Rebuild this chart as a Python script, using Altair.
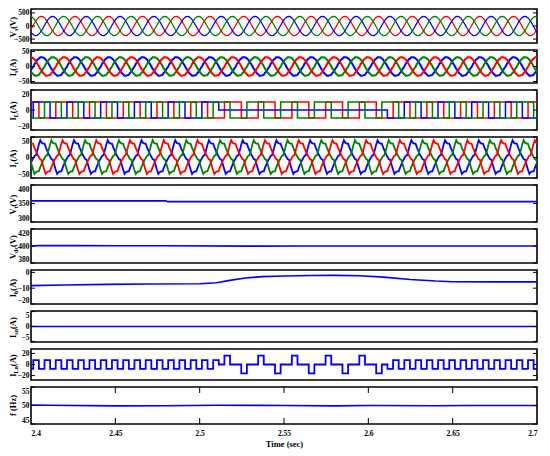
import altair as alt
import pandas as pd

T0, T1 = 2.4, 2.7
PERIOD = 0.02
X_TICKS = [2.4, 2.45, 2.5, 2.55, 2.6, 2.65, 2.7]
W = 506

# ---- three-phase waveforms: one cycle (24 samples, starting at the phase peak)
VS_CYCLE = [370, 357, 320, 262, 185, 96, 0, -96, -185, -262, -320, -357,
            -370, -357, -320, -262, -185, -96, 0, 96, 185, 262, 320, 357]
VS_PEAKS = {"red": 2.4061, "blue": 2.4128, "green": 2.4194}

IS_CYCLE = [31, 30, 27, 23, 15, 9, 1, -8, -14, -22, -26, -31,
            -31, -29, -28, -21, -16, -7, -1, 9, 14, 23, 26, 31]
IS_PEAKS = {"blue": 2.4063, "green": 2.4130, "red": 2.4197}

IC_CYCLE = [42, 36, 34, 34, 24, 16, 8, 2, -4, -6, -18, -30,
            -40, -36, -34, -34, -24, -16, -8, -2, 4, 6, 18, 32]
IC_PEAKS = {"blue": 2.4055, "green": 2.4121, "red": 2.4187}

# ---- load currents: level of each half cycle (10 ms) per phase
IL_HALF = 0.01
IL_START = {"red": 2.3847, "blue": 2.3913, "green": 2.3980}
IL_RED = [-8, 8, -8, 8, -8, 8, -8, 8, -8, 8, -8, 8, -8, 8, -8, 8, -8,
          8, -8, 8, -8, 8, -8, 8, -8, 8, -8, 8, -8, 8, -8, 8, -8]
IL_BLUE = [-8, 8, -8, 8, -8, 8, -8, 8, -8, 8, -8, 8, 0, 0, 0, 0, 0,
           0, 0, 0, 0, 0, -8, 8, -8, 8, -8, 8, -8, 8, -8, 8, -8]
IL_GREEN = [-8, 8, -8, 8, -8, 8, -8, 8, -8, 8, -8, 8, -8, 8, -8, 8, -8,
            8, -8, 8, -8, 8, -8, 8, -8, 8, -8, 8, -8, 8, -8, 8, -8]

# ---- load neutral current: level of each 1/6-cycle segment
ILN_START = 2.3980
ILN_STEP = 1 / 300
ILN = [-8, 8, -8, 8, -8, 8, -8, 8, -8, 8, -8, 8, -8, 8, -8, 8, -8, 8,
       -8, 8, -8, 8, -8, 8, -8, 8, -8, 8, -8, 8, -8, 8, -8, 8,
       0, 16, 0, 0, -16, 0, 0, 16, 0, 0, -16, 0, 0, 16, 0, 0, -16, 0,
       0, 16, 0, 0, -16, 0, 0, 16, 0, 0, -16, 0,
       -8, 8, -8, 8, -8, 8, -8, 8, -8, 8, -8, 8, -8, 8, -8, 8, -8, 8,
       -8, 8, -8, 8, -8, 8, -8, 8, -8]

# ---- slow quantities (time, value)
VT_T = [2.400, 2.480, 2.481, 2.700]
VT_V = [357, 357, 355, 355]

VDC_T = [2.400, 2.405, 2.428, 2.452, 2.480, 2.530, 2.560, 2.700]
VDC_V = [400.0, 400.4, 400.4, 400.3, 400.3, 399.8, 400.0, 400.0]

IB_T = [2.400, 2.420, 2.445, 2.470, 2.500, 2.510, 2.517, 2.527, 2.537, 2.550,
        2.566, 2.580, 2.595, 2.609, 2.625, 2.640, 2.650, 2.675, 2.700]
IB_V = [-8.4, -8.0, -7.6, -7.4, -7.2, -6.6, -5.2, -3.6, -2.7, -2.3,
        -2.0, -1.9, -2.1, -3.0, -4.5, -5.5, -5.9, -6.0, -6.0]

ISN_T = [2.400, 2.700]
ISN_V = [0, 0]

F_T = [2.40, 2.41, 2.45, 2.48, 2.51, 2.55, 2.58, 2.60, 2.64, 2.66, 2.70]
F_V = [50.1, 50.05, 49.9, 49.95, 50.05, 50.0, 49.9, 50.0, 49.95, 50.0, 50.0]

COLORS = {"red": "#ff0000", "blue": "#0000ff", "green": "#008000"}

FONT = "Liberation Serif"
TITLE_FS = 8.5
SUB_FS = 6
# approximate advance widths (em) of Liberation Serif Bold
CHAR_EM = {"V": 0.722, "I": 0.389, "f": 0.333, " ": 0.25, "(": 0.333, ")": 0.333,
           "A": 0.722, "H": 0.778, "z": 0.444, "s": 0.389, "L": 0.667, "c": 0.444,
           "t": 0.333, "d": 0.556, "b": 0.556, "n": 0.556}


def text_w(s, fs):
    return sum(CHAR_EM.get(ch, 0.5) for ch in s) * fs


def tiled(cycle, peaks):
    rows = []
    n = len(cycle)
    for ph, tp in peaks.items():
        for k in range(-1, 17):
            for i, v in enumerate(cycle):
                t = tp + (k + i / n) * PERIOD
                if T0 - 0.003 <= t <= T1 + 0.003:
                    rows.append({"t": t, "v": v, "p": ph})
    return pd.DataFrame(rows)


def steps(levels, start, dt, ph):
    rows = [{"t": start + i * dt, "v": lv, "p": ph} for i, lv in enumerate(levels)]
    rows.append({"t": start + len(levels) * dt, "v": levels[-1], "p": ph})
    return rows


def series(ts, vs):
    return pd.DataFrame({"t": ts, "v": vs, "p": ["blue"] * len(ts)})


def title_layers(main, sub, unit, h):
    wm, ws, wu = text_w(main, TITLE_FS), text_w(sub, SUB_FS), text_w(unit, TITLE_FS)
    y0 = h / 2 + (wm + ws + wu) / 2
    xa = -15
    out = []
    parts = [(main, TITLE_FS, xa, y0), (sub, SUB_FS, xa + 2, y0 - wm),
             (unit, TITLE_FS, xa, y0 - wm - ws)]
    for txt, fs, xx, yy in parts:
        if not txt:
            continue
        out.append(alt.Chart(pd.DataFrame({"s": [txt]})).mark_text(
            angle=270, align="left", baseline="alphabetic", font=FONT,
            fontWeight="bold", fontSize=fs, color="black"
        ).encode(text="s:N", x=alt.value(xx), y=alt.value(yy)))
    return out


def panel(df, title, domain, ticks, h, sw=1.6, interp="linear", bottom=False):
    if bottom:
        xaxis = alt.Axis(values=X_TICKS, format="~g", title="Time (sec)",
                         labelPadding=5, titlePadding=3, labelFontSize=7.5,
                         titleFontSize=8.5)
    else:
        xaxis = None
    x = alt.X("t:Q", scale=alt.Scale(domain=[T0, T1], nice=False, zero=False), axis=xaxis)
    y = alt.Y("v:Q", scale=alt.Scale(domain=domain, nice=False, zero=False),
              axis=alt.Axis(values=ticks, title=None, labelFlush=True))
    color = alt.Color("p:N", scale=alt.Scale(domain=list(COLORS.keys()),
                                             range=list(COLORS.values())), legend=None)
    line = alt.Chart(df).mark_line(clip=True, strokeWidth=sw, interpolate=interp).encode(
        x=x, y=y, color=color)
    tdf = pd.DataFrame({"v": ticks})
    lt = alt.Chart(tdf).mark_rule(color="black", strokeWidth=1).encode(
        y=y, x=alt.value(0), x2=alt.value(4))
    rt = alt.Chart(tdf).mark_rule(color="black", strokeWidth=1).encode(
        y=y, x=alt.value(W - 4), x2=alt.value(W))
    layers = [line, lt, rt]
    if bottom:
        xdf = pd.DataFrame({"t": X_TICKS[1:-1]})
        layers.append(alt.Chart(xdf).mark_rule(color="black", strokeWidth=1).encode(
            x=x, y=alt.value(0), y2=alt.value(6)))
        layers.append(alt.Chart(xdf).mark_rule(color="black", strokeWidth=1).encode(
            x=x, y=alt.value(h - 6), y2=alt.value(h)))
    layers += title_layers(*title, h)
    return alt.layer(*layers).properties(width=W, height=h)


il_rows = (steps(IL_RED, IL_START["red"], IL_HALF, "red")
           + steps(IL_BLUE, IL_START["blue"], IL_HALF, "blue")
           + steps(IL_GREEN, IL_START["green"], IL_HALF, "green"))
il_df = pd.DataFrame(il_rows)
iln_df = pd.DataFrame(steps(ILN, ILN_START, ILN_STEP, "blue"))

panels = [
    panel(tiled(VS_CYCLE, VS_PEAKS), ("V", "s", " (V)"), [-650, 650], [-500, 0, 500], 34, sw=1.3),
    panel(tiled(IS_CYCLE, IS_PEAKS), ("I", "s", " (A)"), [-55, 55], [-50, 0, 50], 33, sw=2),
    panel(il_df, ("I", "L", " (A)"), [-20, 20], [-20, 0, 20], 40, sw=1.5, interp="step-after"),
    panel(tiled(IC_CYCLE, IC_PEAKS), ("I", "c", " (A)"), [-50, 50], [-50, 0, 50], 41, sw=1.8),
    panel(series(VT_T, VT_V), ("V", "t", " (V)"), [300, 400], [300, 350, 400], 37),
    panel(series(VDC_T, VDC_V), ("V", "dc", " (V)"), [380, 420], [380, 400, 420], 34),
    panel(series(IB_T, IB_V), ("I", "b", " (A)"), [-20, 1.5], [-20, -10, 0], 34),
    panel(series(ISN_T, ISN_V), ("I", "sn", " (A)"), [-5.2, 5.2], [-5, 0, 5], 31),
    panel(iln_df, ("I", "Ln", " (A)"), [-28, 28], [-20, 0, 20], 31, sw=1.8, interp="step-after"),
    panel(series(F_T, F_V), ("f (Hz)", "", ""), [45, 55], [45, 50, 55], 37, bottom=True),
]

chart = alt.vconcat(*panels, spacing=7, bounds="flush").properties(
    padding={"left": 0, "top": 0, "right": 0, "bottom": 0}
).configure_view(
    stroke="black", strokeWidth=1.6
).configure_axis(
    labelFont=FONT, labelFontWeight="bold", labelFontSize=7.5,
    labelColor="black", titleFont=FONT, titleFontWeight="bold",
    titleFontSize=8.5, titleColor="black", grid=False, domain=False, ticks=False,
    labelPadding=2, labelOverlap=False
)

chart.save("out.html", embed_options={"renderer": "svg", "actions": False})
